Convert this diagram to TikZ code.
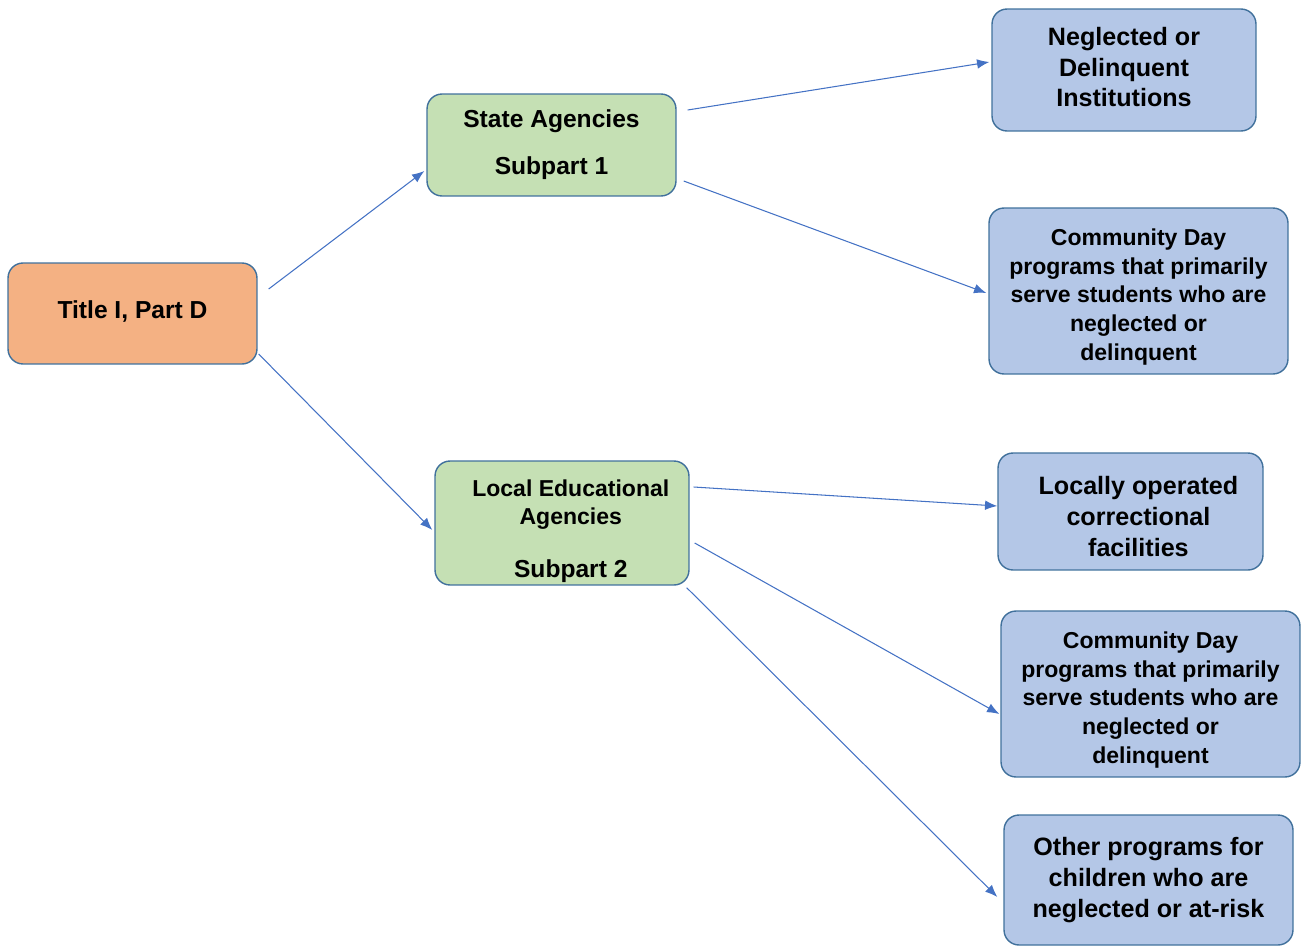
\documentclass[tikz,border=0pt]{standalone}
\usepackage{fontspec}
\setmainfont{Liberation Sans}
\usetikzlibrary{arrows.meta}
\definecolor{titleorange}{HTML}{F4B183}
\definecolor{agencygreen}{HTML}{C5E0B4}
\definecolor{programblue}{HTML}{B4C7E7}
\definecolor{edgeblue}{HTML}{41719C}
\definecolor{linkblue}{HTML}{4472C4}

\begin{document}
\begin{tikzpicture}[x=0.02cm, y=-0.02cm]
\tikzstyle{box} = [rectangle, rounded corners=0.3cm, text centered, align=center, inner sep=0pt, draw=edgeblue, line width=0.8pt]
\tikzstyle{lead} = [box, fill=titleorange, font=\bfseries\fontsize{14}{17}\selectfont]
\tikzstyle{agency} = [box, fill=agencygreen, font=\bfseries\fontsize{14}{17}\selectfont]
\tikzstyle{program} = [box, fill=programblue, font=\bfseries\fontsize{14.3}{17.4}\selectfont]
\tikzstyle{longprogram} = [box, fill=programblue, font=\bfseries\fontsize{13.1}{16.3}\selectfont]
\tikzstyle{link} = [-{Latex[length=7pt,width=5.5pt]}, linkblue, line width=0.6pt]

\useasboundingbox (0,0) rectangle (1302,947);

\node (title) [lead, minimum width=4.98cm, minimum height=2.02cm] at (132.5,313.5) {Title I, Part D\rule[-5pt]{0pt}{5pt}};
\node (state) [agency, minimum width=4.98cm, minimum height=2.04cm] at (551.5,145) {State Agencies\\[9.7pt]Subpart 1};
\node (lea) [agency, font=\bfseries\fontsize{13.1}{16}\selectfont, minimum width=5.08cm, minimum height=2.48cm] at (562,523) {\rule{0pt}{18.4pt}\hspace*{10pt}Local Educational\\\hspace*{10pt}Agencies\\[14pt]\fontsize{14}{17}\selectfont\hspace*{10pt}Subpart 2};

% subpart 1 programs
\node (neglected) [program, minimum width=5.28cm, minimum height=2.44cm] at (1124,70) {Neglected or\\Delinquent\\Institutions\rule[-3.4pt]{0pt}{3.4pt}};
\node (communityA) [longprogram, minimum width=5.98cm, minimum height=3.32cm] at (1138.5,291) {\rule{0pt}{16.2pt}Community Day\\programs that primarily\\serve students who are\\neglected or\\delinquent};

% subpart 2 programs
\node (locally) [program, minimum width=5.30cm, minimum height=2.34cm] at (1130.5,511.5) {\rule{0pt}{16pt}\hspace*{9pt}Locally operated\\\hspace*{9pt}correctional\\\hspace*{9pt}facilities};
\node (communityB) [longprogram, minimum width=5.98cm, minimum height=3.32cm] at (1150.5,694) {\rule{0pt}{16.2pt}Community Day\\programs that primarily\\serve students who are\\neglected or\\delinquent};
\node (other) [program, minimum width=5.78cm, minimum height=2.60cm] at (1148.5,880) {Other programs for\\children who are\\neglected or at-risk};

\draw[link] ([shift={(11,-24.5)}]title.east) -- ([shift={(-2,26)}]state.west);
\draw[link] ([shift={(1,40.5)}]title.east) -- ([shift={(-2,7)}]lea.west);
\draw[link] ([shift={(11,-35)}]state.east) -- ([shift={(-2,-8)}]neglected.west);
\draw[link] ([shift={(7,36)}]state.east) -- ([shift={(-2,2)}]communityA.west);
\draw[link] ([shift={(4,-36)}]lea.east) -- ([shift={(0,-5.5)}]locally.west);
\draw[link] ([shift={(5,20)}]lea.east) -- ([shift={(-1,20)}]communityB.west);
\draw[link] ([shift={(-3,2)}]lea.south east) -- ([shift={(-6,17)}]other.west);

\end{tikzpicture}
\end{document}
